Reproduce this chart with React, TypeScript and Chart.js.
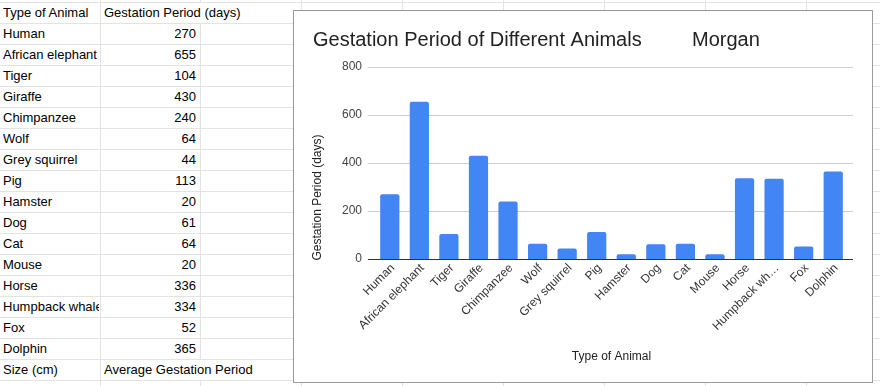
import React, { useEffect, useRef } from "react";
import { Chart, registerables } from "chart.js";

Chart.register(...registerables);

const animals: string[] = [
  "Human", "African elephant", "Tiger", "Giraffe", "Chimpanzee", "Wolf",
  "Grey squirrel", "Pig", "Hamster", "Dog", "Cat", "Mouse", "Horse",
  "Humpback whale", "Fox", "Dolphin",
];
const gestationDays: number[] = [270, 655, 104, 430, 240, 64, 44, 113, 20, 61, 64, 20, 336, 334, 52, 365];
const tickLabels: string[] = [
  "Human", "African elephant", "Tiger", "Giraffe", "Chimpanzee", "Wolf",
  "Grey squirrel", "Pig", "Hamster", "Dog", "Cat", "Mouse", "Horse",
  "Humpback wh…", "Fox", "Dolphin",
];
const yTicks: number[] = [0, 200, 400, 600, 800];

const chartTitle = "Gestation Period of Different Animals";
const chartAuthor = "Morgan";
const xTitle = "Type of Animal";
const yTitle = "Gestation Period (days)";
const headerA = "Type of Animal";
const headerB = "Gestation Period (days)";
const footerA = "Size (cm)";
const footerB = "Average Gestation Period";

const FONT = "Arial, 'Liberation Sans', sans-serif";
const GRID = "#e2e3e3";
const colLines = [100, 200, 301, 402, 503, 604, 705, 806];
const ROW_H = 21;
const ROW0 = 2;

function ChartBox() {
  const ref = useRef<HTMLCanvasElement | null>(null);
  useEffect(() => {
    if (!ref.current) return;
    const decor = {
      id: "decor",
      beforeDatasetsDraw(chart: any) {
        const { ctx, chartArea, scales } = chart;
        ctx.save();
        ctx.strokeStyle = "#cccccc";
        ctx.lineWidth = 1;
        for (const v of yTicks) {
          if (v === 0) continue;
          const y = Math.round(scales.y.getPixelForValue(v)) + 0.5;
          ctx.beginPath();
          ctx.moveTo(chartArea.left - 7, y);
          ctx.lineTo(chartArea.right + 5, y);
          ctx.stroke();
        }
        ctx.restore();
      },
      afterDatasetsDraw(chart: any) {
        const { ctx, chartArea, scales } = chart;
        ctx.save();
        ctx.strokeStyle = "#333333";
        ctx.lineWidth = 1;
        const y = Math.round(scales.y.getPixelForValue(0)) + 0.5;
        ctx.beginPath();
        ctx.moveTo(chartArea.left - 7, y);
        ctx.lineTo(chartArea.right + 5, y);
        ctx.stroke();
        ctx.restore();
      },
      afterDraw(chart: any) {
        const { ctx, chartArea } = chart;
        ctx.save();
        ctx.fillStyle = "#222222";
        ctx.font = `20px ${FONT}`;
        ctx.textBaseline = "alphabetic";
        ctx.textAlign = "left";
        ctx.fillText(chartTitle, 19, 35);
        ctx.fillText(chartAuthor, 398, 35);
        ctx.font = `12px ${FONT}`;
        ctx.textAlign = "center";
        ctx.fillText(xTitle, (chartArea.left + chartArea.right) / 2, 349);
        ctx.translate(24, 186.5);
        ctx.rotate(-Math.PI / 2);
        ctx.textBaseline = "middle";
        ctx.fillText(yTitle, 0, 0);
        ctx.restore();
      },
    };
    const chart = new Chart(ref.current, {
      type: "bar",
      data: {
        labels: tickLabels,
        datasets: [
          {
            label: yTitle,
            data: gestationDays,
            backgroundColor: "#4285f4",
            borderWidth: 0,
            borderRadius: { topLeft: 2, topRight: 2, bottomLeft: 0, bottomRight: 0 },
            borderSkipped: false,
            categoryPercentage: 1,
            barPercentage: 0.65,
          },
        ],
      },
      options: {
        animation: false,
        responsive: false,
        devicePixelRatio: 1,
        layout: { padding: { top: 56, right: 24, left: 0, bottom: 0 } },
        plugins: {
          legend: { display: false },
          title: { display: false },
          tooltip: { enabled: false },
        },
        scales: {
          x: {
            grid: { display: false, drawTicks: false },
            border: { display: false },
            ticks: {
              autoSkip: false,
              maxRotation: 45,
              minRotation: 45,
              padding: 2,
              labelOffset: 3,
              color: "#333333",
              font: { family: FONT, size: 12 },
            },
            afterFit(scale: any) {
              scale.height = 123;
              scale.paddingLeft = 0;
              scale.paddingRight = 0;
            },
          },
          y: {
            min: 0,
            max: 800,
            grid: { display: false, drawTicks: false },
            border: { display: false },
            ticks: {
              stepSize: 200,
              padding: 13,
              color: "#444444",
              font: { family: FONT, size: 12 },
            },
            afterFit(scale: any) {
              scale.width = 81;
              scale.paddingTop = 0;
              scale.paddingBottom = 0;
            },
          },
        },
      },
      plugins: [decor],
    } as any);
    return () => chart.destroy();
  }, []);
  return <canvas ref={ref} width={578} height={371} style={{ display: "block", width: 578, height: 371 }} />;
}

export default function App() {
  const rows: { a: string; b: string; num: boolean }[] = [
    { a: headerA, b: headerB, num: false },
    ...animals.map((a, i) => ({ a, b: String(gestationDays[i]), num: true })),
    { a: footerA, b: footerB, num: false },
  ];
  const nRowLines = 19;
  const textStyle: React.CSSProperties = {
    position: "absolute",
    height: ROW_H - 1,
    lineHeight: `${ROW_H - 1}px`,
    fontSize: 13,
    fontFamily: FONT,
    color: "#000",
    whiteSpace: "nowrap",
    overflow: "hidden",
  };
  return (
    <div style={{ position: "fixed", left: 0, top: 0, width: 880, height: 386, background: "#fff", overflow: "hidden" }}>
      {Array.from({ length: nRowLines }).map((_, k) => (
        <div key={"h" + k} style={{ position: "absolute", left: 0, top: ROW0 + k * ROW_H, width: 880, height: 1, background: GRID }} />
      ))}
      {colLines.map((x, c) =>
        <div key={"v" + c} style={{ position: "absolute", left: x, top: 0, width: 1, height: 386, background: GRID }} />
      )}
      {rows.map((r, i) => {
        const top = ROW0 + i * ROW_H + 1;
        return (
          <React.Fragment key={"r" + i}>
            {!r.num && (
              <div style={{ position: "absolute", left: 101, top, width: 199, height: ROW_H - 1, background: "#fff" }} />
            )}
            <div style={{ ...textStyle, left: 3, top, width: 96 }}>{r.a}</div>
            {r.num ? (
              <div style={{ ...textStyle, left: 101, top, width: 95, textAlign: "right" }}>{r.b}</div>
            ) : (
              <div style={{ ...textStyle, left: 104, top, width: 190 }}>{r.b}</div>
            )}
          </React.Fragment>
        );
      })}
      <div style={{ position: "absolute", left: 293, top: 10, width: 578, height: 371, border: "1px solid #9a9a9a", background: "#fff" }}>
        <ChartBox />
      </div>
    </div>
  );
}
